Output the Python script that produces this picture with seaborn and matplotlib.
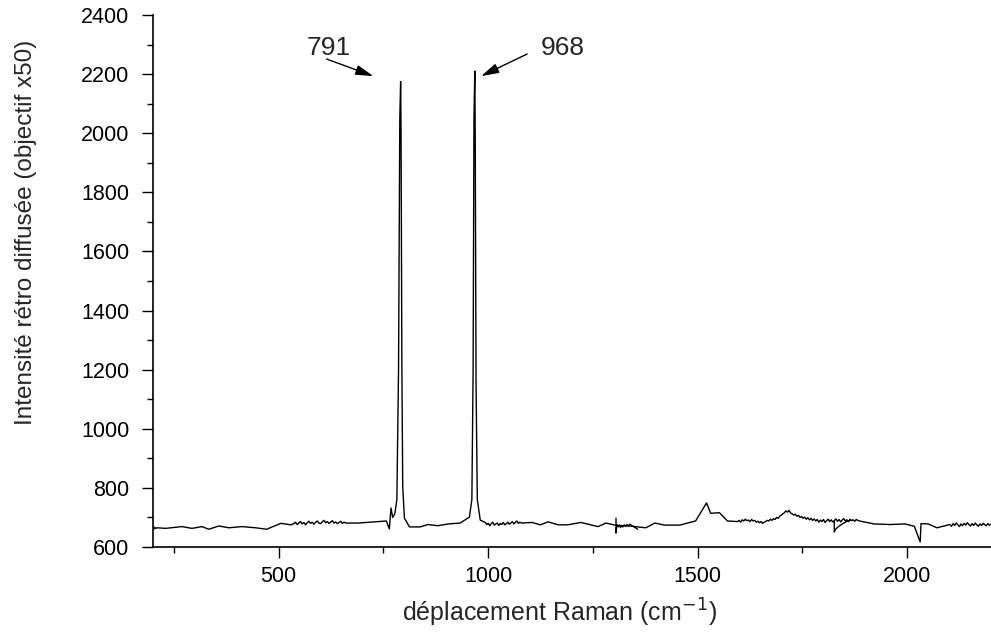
import numpy as np
import pandas as pd
import matplotlib
matplotlib.use("Agg")
import matplotlib.pyplot as plt
from matplotlib.ticker import MultipleLocator
import seaborn as sns

# SPECTRUM DATA

start_x = [198, 200, 202, 204, 206, 210]
start_y = [662, 668, 660, 667, 663, 665]

left_x = [230, 269, 293, 317, 333, 357, 381, 412, 445, 471, 505, 529]
left_y = [663, 669, 663, 669, 660, 671, 665, 669, 665, 660, 680, 675]

noise1_range = (536, 660)
noise1_y = [679, 684, 676, 681, 686, 678, 683, 675, 682, 687, 680, 684, 677, 683, 688, 681,
            679, 685, 690, 682, 686, 680, 684, 689, 681, 685, 679, 683, 687, 680, 684, 681]

peaks_x = [690, 757, 764, 768, 772, 777, 782, 786, 789, 791, 792, 794, 796, 800, 812, 838,
           856, 880, 905, 933, 955, 961, 964, 966, 968, 969, 971, 974, 981]
peaks_y = [681, 688, 661, 732, 700, 712, 760, 1200, 2050, 2175, 2000, 1200, 803, 698, 668, 668,
           676, 672, 678, 681, 701, 760, 1200, 2050, 2210, 2000, 1150, 760, 691]

noise2_range = (993, 1079)
noise2_y = [683, 676, 680, 672, 679, 684, 674, 678, 681, 673, 680, 676, 683, 675, 679, 684,
            677, 681, 686, 678, 683, 688, 680, 684, 681]

mid_x = [1105, 1124, 1143, 1167, 1190, 1221, 1262, 1281, 1305, 1330, 1376, 1398, 1421, 1457,
         1495, 1521, 1531, 1552, 1571]
mid_y = [683, 675, 685, 675, 675, 683, 669, 681, 673, 672, 665, 681, 674, 674,
         688, 749, 714, 716, 688]

noise3_range = (1595, 1886)
noise3_y = [686, 690, 684, 692, 688, 694, 689, 691, 686, 693, 688, 690, 684, 687, 682, 686, 680, 684,
            686, 690, 688, 694, 690, 696, 693, 700, 697, 704, 708, 712, 716, 722,
            718, 724, 715, 712, 708, 711, 704, 707, 700, 703, 697, 701, 694, 699, 692, 697, 690, 695, 688, 693,
            684, 691, 686, 693, 683, 689, 694, 686, 692, 684, 690, 695, 687, 693, 685, 691, 696, 688, 692, 686,
            694, 689, 692, 687, 693, 690, 688]

right_x = [1921, 1960, 1995, 2017, 2031, 2033, 2050, 2071]
right_y = [678, 676, 678, 670, 617, 679, 678, 665]

noise4_range = (2102, 2200)
noise4_y = [676, 670, 679, 673, 681, 675, 669, 678, 672, 680, 674, 682, 676, 671, 679, 673,
            681, 675, 670, 678, 673, 680, 676, 672, 679, 674, 677]

# overlapping pieces of the recording
glitch1_x = [1305, 1305, 1307, 1310, 1313, 1316, 1319, 1322, 1325, 1328, 1331, 1334, 1338, 1357]
glitch1_y = [698, 647, 676, 668, 674, 666, 673, 668, 675, 669, 676, 671, 677, 660]

glitch2_x = [1826, 1826, 1829, 1835, 1845, 1855, 1865]
glitch2_y = [688, 651, 660, 668, 678, 686, 691]

peak_labels = ["791", "968"]
label_pos = [(567, 2288), (1126, 2288)]
arrow_tail = [(614, 2251), (1093, 2268)]
arrow_head = [(726, 2193), (983, 2193)]

# BUILD THE LINE


def noisy(rng, vals):
    return list(np.linspace(rng[0], rng[1], len(vals))), list(vals)


n1x, n1y = noisy(noise1_range, noise1_y)
n2x, n2y = noisy(noise2_range, noise2_y)
n3x, n3y = noisy(noise3_range, noise3_y)
n4x, n4y = noisy(noise4_range, noise4_y)

spec = pd.DataFrame({
    "x": start_x + left_x + n1x + peaks_x + n2x + mid_x + n3x + right_x + n4x,
    "y": start_y + left_y + n1y + peaks_y + n2y + mid_y + n3y + right_y + n4y,
})

# PLOT

sns.set_style("ticks")
plt.rcParams["font.family"] = ["Liberation Sans", "DejaVu Sans"]

fig = plt.figure(figsize=(9.91, 6.37), dpi=100)
ax = fig.add_axes([0.1544, 0.1413, 0.8456, 0.8352])

line_kw = dict(color="black", linewidth=1.0, sort=False, estimator=None, ax=ax)
sns.lineplot(data=spec, x="x", y="y", **line_kw)
sns.lineplot(x=glitch1_x, y=glitch1_y, **line_kw)
sns.lineplot(x=glitch2_x, y=glitch2_y, **line_kw)

ax.set_xlim(200, 2200)
ax.set_ylim(600, 2400)
ax.xaxis.set_major_locator(MultipleLocator(500))
ax.xaxis.set_minor_locator(MultipleLocator(250))
ax.yaxis.set_major_locator(MultipleLocator(200))
ax.yaxis.set_minor_locator(MultipleLocator(100))
ax.tick_params(which="major", length=8, width=1.0, color="black", labelsize=15.5, labelcolor="black")
ax.tick_params(which="minor", length=4.3, width=1.0, color="black")
ax.tick_params(axis="x", which="major", pad=6)
ax.tick_params(axis="y", which="major", pad=9)

sns.despine(ax=ax)
for side in ["left", "bottom"]:
    ax.spines[side].set_linewidth(1.2)
    ax.spines[side].set_color("black")

ax.set_xlabel("déplacement Raman (cm$^{-1}$)", fontsize=18)
ax.set_ylabel("Intensité rétro diffusée (objectif x50)", fontsize=17.5)
ax.yaxis.set_label_coords(-0.138, 0.592)
ax.xaxis.set_label_coords(0.485, -0.094)

for lab, pos, tail, head in zip(peak_labels, label_pos, arrow_tail, arrow_head):
    ax.text(pos[0], pos[1], lab, fontsize=19, ha="left", va="center")
    ax.annotate("", xy=head, xytext=tail,
                arrowprops=dict(arrowstyle="-|>,head_length=0.9,head_width=0.25", color="black",
                                lw=1.0, mutation_scale=12, shrinkA=0, shrinkB=0))

fig.savefig("out.png", dpi=100)
